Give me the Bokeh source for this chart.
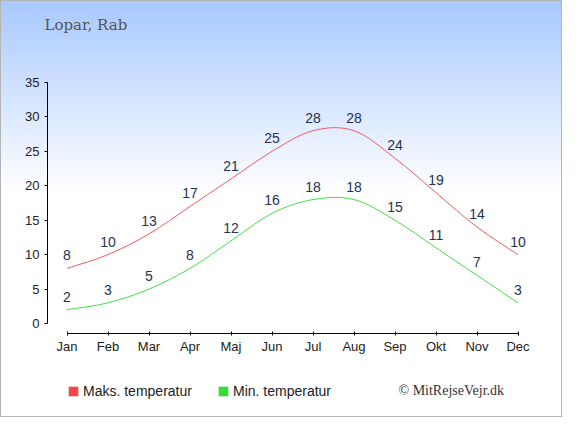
from bokeh.plotting import figure
from bokeh.models import (Range1d, LinearAxis, FixedTicker, Legend, Label,
                          LegendItem, ColumnDataSource)
from bokeh.embed import file_html
from bokeh.resources import INLINE
from bokeh.core.properties import value

title_text = "Lopar, Rab"
months = ["Jan", "Feb", "Mar", "Apr", "Maj", "Jun", "Jul", "Aug", "Sep", "Okt", "Nov", "Dec"]
max_temp = [8, 10, 13, 17, 21, 25, 28, 28, 24, 19, 14, 10]
min_temp = [2, 3, 5, 8, 12, 16, 18, 18, 15, 11, 7, 3]
y_ticks = [0, 5, 10, 15, 20, 25, 30, 35]
max_label = "Maks. temperatur"
min_label = "Min. temperatur"
credit = "\u00a9 MitRejseVejr.dk"

RED = "#f05c5c"
GREEN = "#44e044"
RED_SQ = "#f04848"
GREEN_SQ = "#33dd33"
LABEL_COLOR = "#223355"

x_idx = list(range(len(months)))

W, H = 562, 417
XU, YU = 41.0, 241.0 / 35.0          # pixels per data unit
X0PX, Y0PX = 65.5, 322.0             # pixel of (Jan, 0)


def px_to_x(px):
    return (px - X0PX) / XU


def px_to_y(py):
    return (Y0PX - py) / YU


p = figure(width=W, height=H,
           x_range=Range1d(px_to_x(0), px_to_x(W)),
           y_range=Range1d(px_to_y(H), px_to_y(0)),
           output_backend="svg", toolbar_location=None,
           x_axis_location=None, y_axis_location=None,
           min_border=0)
p.background_fill_alpha = 0
p.border_fill_alpha = 0
p.outline_line_color = None
p.styles = {"background": "linear-gradient(to bottom, #a8c8ff 0px, #ffffff 192px)",
            "border": "1px solid #b4b4b4"}
p.xgrid.visible = False
p.ygrid.visible = False

xaxis = LinearAxis(bounds=(0, 11), ticker=FixedTicker(ticks=x_idx),
                   fixed_location=px_to_y(332),
                   major_label_overrides={i: m for i, m in enumerate(months)},
                   major_tick_in=2, major_tick_out=2, major_label_standoff=3,
                   axis_line_color="black", major_tick_line_color="black",
                   minor_tick_line_color=None,
                   major_label_text_font="Liberation Sans",
                   major_label_text_font_size="13px",
                   major_label_text_color="#222222")
p.add_layout(xaxis, "below")

yaxis = LinearAxis(bounds=(0, 35), ticker=FixedTicker(ticks=y_ticks),
                   fixed_location=px_to_x(46),
                   major_tick_in=0, major_tick_out=3, major_label_standoff=5,
                   axis_line_color="black", major_tick_line_color="black",
                   minor_tick_line_color=None,
                   major_label_text_font="Liberation Sans",
                   major_label_text_font_size="13px",
                   major_label_text_color="#222222")
p.add_layout(yaxis, "left")


def bezier_source(vals):
    n = len(vals)
    m = []
    for i in range(n):
        if i == 0:
            m.append(vals[1] - vals[0])
        elif i == n - 1:
            m.append(vals[-1] - vals[-2])
        else:
            m.append((vals[i + 1] - vals[i - 1]) / 2.0)
    d = dict(x0=[], y0=[], x1=[], y1=[], cx0=[], cy0=[], cx1=[], cy1=[])
    for i in range(n - 1):
        d["x0"].append(x_idx[i]); d["y0"].append(vals[i])
        d["x1"].append(x_idx[i + 1]); d["y1"].append(vals[i + 1])
        d["cx0"].append(x_idx[i] + 1 / 3); d["cy0"].append(vals[i] + m[i] / 3)
        d["cx1"].append(x_idx[i + 1] - 1 / 3); d["cy1"].append(vals[i + 1] - m[i + 1] / 3)
    return ColumnDataSource(d)


p.bezier(x0="x0", y0="y0", x1="x1", y1="y1", cx0="cx0", cy0="cy0", cx1="cx1", cy1="cy1",
         source=bezier_source(max_temp), line_color=RED, line_width=1)
p.bezier(x0="x0", y0="y0", x1="x1", y1="y1", cx0="cx0", cy0="cy0", cx1="cx1", cy1="cy1",
         source=bezier_source(min_temp), line_color=GREEN, line_width=1)

lab_src = ColumnDataSource(dict(x=x_idx + x_idx, y=max_temp + min_temp,
                                t=[str(v) for v in max_temp + min_temp]))
p.text(x="x", y="y", text="t", source=lab_src, y_offset=-13,
       text_align="center", text_baseline="middle",
       text_font=value("Liberation Sans"), text_font_size="14px",
       text_color=LABEL_COLOR)

p.add_layout(Label(x=px_to_x(43), y=px_to_y(23), text=title_text,
                   text_baseline="middle", text_font="DejaVu Serif",
                   text_font_size="15px", text_color="#555555"))
p.add_layout(Label(x=px_to_x(397), y=px_to_y(389), text=credit,
                   text_baseline="middle", text_font="Liberation Serif",
                   text_font_size="14px", text_color="#333333"))

nan = float("nan")
r_max = p.quad(left=[nan], right=[nan], top=[nan], bottom=[nan],
               fill_color=RED_SQ, line_color=None)
r_min = p.quad(left=[nan], right=[nan], top=[nan], bottom=[nan],
               fill_color=GREEN_SQ, line_color=None)

for lab, r, lx in [(max_label, r_max, 66), (min_label, r_min, 216)]:
    lg = Legend(items=[LegendItem(label=lab, renderers=[r])], location=(lx, 19),
                orientation="horizontal", glyph_width=12, glyph_height=12,
                label_standoff=4, padding=0, margin=0, spacing=0,
                border_line_color=None, background_fill_alpha=0,
                label_height=12, label_text_font="Liberation Sans",
                label_text_font_size="14px", label_text_color="#222222")
    p.add_layout(lg)

open("out.html", "w").write(file_html(p, INLINE))
